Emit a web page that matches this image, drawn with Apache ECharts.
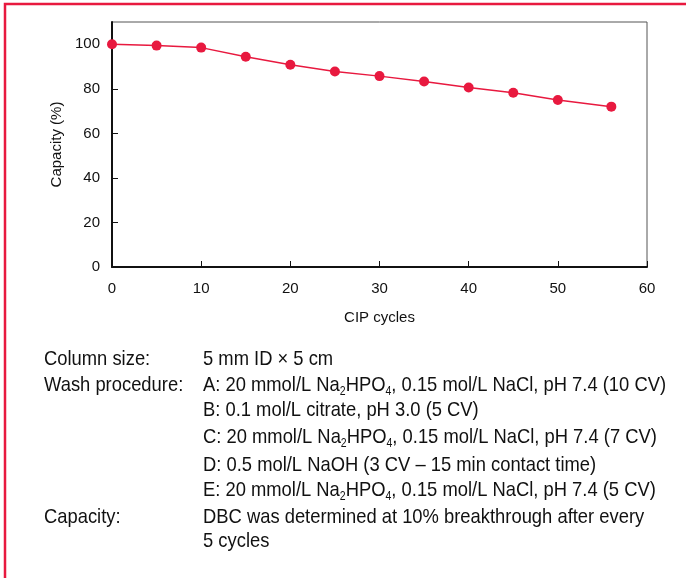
<!DOCTYPE html>
<html><head><meta charset="utf-8">
<script src="https://cdn.jsdelivr.net/npm/echarts@6/dist/echarts.min.js"></script>
<style>html,body{margin:0;padding:0;background:#fff}#c{width:686px;height:578px}</style>
</head><body><div id="c"></div>
<script>
const cycles = [0, 5, 10, 15, 20, 25, 30, 35, 40, 45, 50, 56];
const capacity = [100, 99.4, 98.5, 94.4, 90.8, 87.8, 85.7, 83.3, 80.6, 78.2, 75.0, 72.0];
const xTicks = [0, 10, 20, 30, 40, 50, 60];
const yTicks = [0, 20, 40, 60, 80, 100];
const notesLeft = ['Column size:', 'Wash procedure:', '', '', '', '', 'Capacity:', ''];
const notesRight = [
  '5 mm ID × 5 cm',
  'A: 20 mmol/L Na{s|2}HPO{s|4}, 0.15 mol/L NaCl, pH 7.4 (10 CV)',
  'B: 0.1 mol/L citrate, pH 3.0 (5 CV)',
  'C: 20 mmol/L Na{s|2}HPO{s|4}, 0.15 mol/L NaCl, pH 7.4 (7 CV)',
  'D: 0.5 mol/L NaOH (3 CV – 15 min contact time)',
  'E: 20 mmol/L Na{s|2}HPO{s|4}, 0.15 mol/L NaCl, pH 7.4 (5 CV)',
  'DBC was determined at 10% breakthrough after every',
  '5 cycles'
];
const lineY = [359, 385, 410, 437, 465, 490, 517, 541];

const RED = '#e8193f';
const FONT = '"Liberation Sans", Arial, sans-serif';
const SX = 0.875;
const chart = echarts.init(document.getElementById('c'), null, {renderer: 'canvas'});

const graphics = [{
  type: 'rect', shape: {x: 5, y: 4, width: 760, height: 640},
  style: {fill: 'none', stroke: RED, lineWidth: 2.5}, silent: true
}];
const rich = {s: {fontSize: 12, fontFamily: FONT, color: '#111', verticalAlign: 'bottom', lineHeight: 15}};
lineY.forEach((y, i) => {
  if (notesLeft[i]) graphics.push({type: 'text', x: 44, y: y, scaleX: SX,
    style: {text: notesLeft[i], fontSize: 21, fontFamily: FONT, fill: '#111', verticalAlign: 'middle'}});
  graphics.push({type: 'text', x: 203, y: y, scaleX: SX,
    style: {text: notesRight[i], fontSize: 21, fontFamily: FONT, fill: '#111', verticalAlign: 'middle', lineHeight: 26, rich: rich}});
});

chart.setOption({
  animation: false,
  grid: {left: 112, right: 39, top: 22, bottom: 311, show: true, borderColor: '#555', borderWidth: 1, backgroundColor: 'transparent'},
  xAxis: {
    type: 'value', min: 0, max: 60, interval: 10,
    name: 'CIP cycles', nameLocation: 'middle', nameGap: 43,
    nameTextStyle: {fontSize: 15, fontFamily: FONT, color: '#111'},
    axisLine: {show: true, lineStyle: {color: '#111', width: 2}},
    axisTick: {show: true, inside: true, length: 6, lineStyle: {color: '#111', width: 1}},
    axisLabel: {fontSize: 15, fontFamily: FONT, color: '#111', margin: 14, formatter: v => xTicks.includes(v) ? String(v) : ''},
    splitLine: {show: false}
  },
  yAxis: {
    type: 'value', min: 0, max: 110, interval: 20,
    name: 'Capacity (%)', nameLocation: 'middle', nameGap: 47, nameRotate: 90,
    nameTextStyle: {fontSize: 15, fontFamily: FONT, color: '#111'},
    axisLine: {show: true, lineStyle: {color: '#111', width: 2}},
    axisTick: {show: true, inside: true, length: 6, lineStyle: {color: '#111', width: 1}},
    axisLabel: {fontSize: 15, fontFamily: FONT, color: '#111', margin: 12, showMaxLabel: false, formatter: v => yTicks.includes(v) ? String(v) : ''},
    splitLine: {show: false}
  },
  series: [{
    type: 'line', data: cycles.map((c, i) => [c, capacity[i]]),
    symbol: 'circle', symbolSize: 10, showSymbol: true,
    lineStyle: {color: RED, width: 1.5}, itemStyle: {color: RED}
  }],
  graphic: graphics
});
</script></body></html>
